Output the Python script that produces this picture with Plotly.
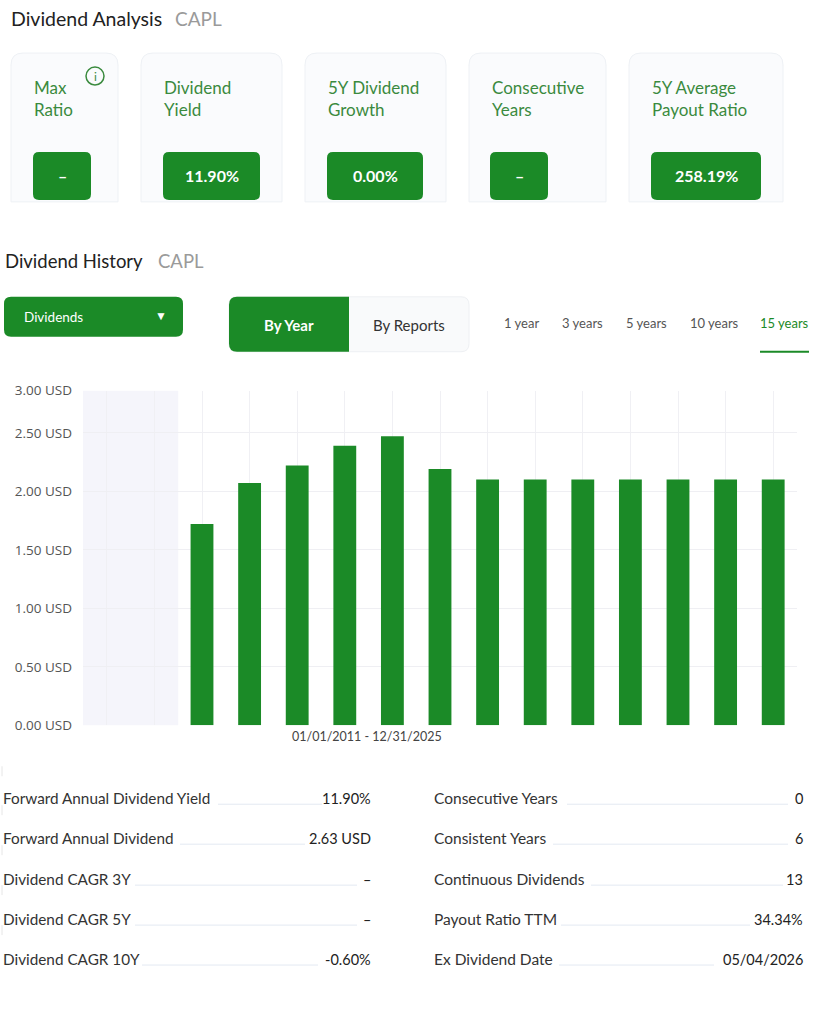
import plotly.graph_objects as go

# ---------------- data ----------------
years = [2011, 2012, 2013, 2014, 2015, 2016, 2017, 2018, 2019, 2020, 2021, 2022, 2023, 2024, 2025]
dividends = [None, None, 1.72, 2.07, 2.22, 2.39, 2.47, 2.19, 2.10, 2.10, 2.10, 2.10, 2.10, 2.10, 2.10]
no_data_years = [2011, 2012]
y_tick_vals = [0.0, 0.5, 1.0, 1.5, 2.0, 2.5, 2.86]
y_tick_text = ["0.00 USD", "0.50 USD", "1.00 USD", "1.50 USD", "2.00 USD", "2.50 USD", "3.00 USD"]
date_range_label = "01/01/2011 - 12/31/2025"

ticker = "CAPL"
card_titles = [["Max", "Ratio"], ["Dividend", "Yield"], ["5Y Dividend", "Growth"],
               ["Consecutive", "Years"], ["5Y Average", "Payout Ratio"]]
card_values = ["–", "11.90%", "0.00%", "–", "258.19%"]

period_labels = ["1 year", "3 years", "5 years", "10 years", "15 years"]
selected_period = "15 years"

left_labels = ["Forward Annual Dividend Yield", "Forward Annual Dividend", "Dividend CAGR 3Y",
               "Dividend CAGR 5Y", "Dividend CAGR 10Y"]
left_values = ["11.90%", "2.63 USD", "–", "–", "-0.60%"]
right_labels = ["Consecutive Years", "Consistent Years", "Continuous Dividends",
                "Payout Ratio TTM", "Ex Dividend Date"]
right_values = ["0", "6", "13", "34.34%", "05/04/2026"]

# ---------------- styling / layout helpers ----------------
W, H = 840, 1024
GREEN = "#1b8a27"
TITLE_GREEN = "#3a8a3e"
FONT = "Lato, 'Open Sans', sans-serif"
# vertical calibration of the page photo (measured): shown_y = Y_OFF + Y_SCALE * page_y
Y_OFF, Y_SCALE = 8.9, 0.9835


def px(x):
    return x / W


def py(y):
    return 1 - ((y - Y_OFF) / Y_SCALE) / H


def rrect_path(x0, y0, x1, y1, r, round_bottom=True, round_left=True, round_right=True):
    rtl = r if round_left else 0
    rtr = r if round_right else 0
    rbr = r if (round_right and round_bottom) else 0
    rbl = r if (round_left and round_bottom) else 0
    p = f"M {px(x0 + rtl)},{py(y0)} L {px(x1 - rtr)},{py(y0)} "
    if rtr:
        p += f"Q {px(x1)},{py(y0)} {px(x1)},{py(y0 + rtr)} "
    p += f"L {px(x1)},{py(y1 - rbr)} "
    if rbr:
        p += f"Q {px(x1)},{py(y1)} {px(x1 - rbr)},{py(y1)} "
    p += f"L {px(x0 + rbl)},{py(y1)} "
    if rbl:
        p += f"Q {px(x0)},{py(y1)} {px(x0)},{py(y1 - rbl)} "
    p += f"L {px(x0)},{py(y0 + rtl)} "
    if rtl:
        p += f"Q {px(x0)},{py(y0)} {px(x0 + rtl)},{py(y0)} "
    p += "Z"
    return p


shapes = []
annotations = []


def text(x, y, s, size=14, color="#333", xanchor="left", bold=False, family=FONT):
    annotations.append(dict(
        x=px(x), y=py(y), xref="paper", yref="paper", text=(f"<b>{s}</b>" if bold else s),
        showarrow=False, xanchor=xanchor, yanchor="middle",
        font=dict(size=size, color=color, family=family)))


def box(x0, y0, x1, y1, r, fill, line="rgba(0,0,0,0)", lw=0, **kw):
    shapes.append(dict(type="path", path=rrect_path(x0, y0, x1, y1, r, **kw),
                       xref="paper", yref="paper", fillcolor=fill,
                       line=dict(color=line, width=lw), layer="above"))


def hline(x0, x1, y, color, width=1):
    shapes.append(dict(type="line", xref="paper", yref="paper", x0=px(x0), x1=px(x1),
                       y0=py(y), y1=py(y), line=dict(color=color, width=width)))


# ---------------- header ----------------
text(9, 18, "Dividend Analysis", size=19.5, color="#222")
text(173, 18, ticker, size=19, color="#9a9a9a")

card_x = [(11, 118), (141, 282), (305, 446), (469, 606), (629, 783)]
value_box = [(33, 91), (163, 260), (327, 423), (490, 548), (651, 761)]
for (cx0, cx1), (bx0, bx1), title, val in zip(card_x, value_box, card_titles, card_values):
    box(cx0, 53, cx1, 202, 12, "#fafbfd", line="#eef1f5", lw=1, round_bottom=False)
    text(cx0 + 21, 87, title[0], size=17, color=TITLE_GREEN)
    text(cx0 + 21, 110, title[1], size=17, color=TITLE_GREEN)
    box(bx0, 152, bx1, 200, 6, GREEN)
    text((bx0 + bx1) / 2, 176, val, size=16, color="white", xanchor="center", bold=True)

# info icon on first card
shapes.append(dict(type="circle", xref="paper", yref="paper", x0=px(86), x1=px(104),
                   y0=py(85), y1=py(67), line=dict(color=TITLE_GREEN, width=1.5)))
text(95, 76, "i", size=12, color=TITLE_GREEN, xanchor="center")

# ---------------- dividend history header ----------------
text(3, 261, "Dividend History", size=18.5, color="#222")
text(156, 261, ticker, size=18.5, color="#9a9a9a")

box(4, 297, 183, 337, 7, GREEN)
text(22, 317, "Dividends", size=13.5, color="white")
text(161, 316, "▼", size=12, color="white", xanchor="center")

box(229, 297, 469, 352, 8, "#f9fafb", line="#eef0f3", lw=1)
box(229, 297, 349, 352, 8, GREEN, round_right=False)
text(289, 325, "By Year", size=15, color="white", xanchor="center", bold=True)
text(409, 325, "By Reports", size=15, color="#333", xanchor="center")

tab_x = [521, 582, 646, 714, 784]
for tx, lab in zip(tab_x, period_labels):
    text(tx, 323, lab, size=13, color=(GREEN if lab == selected_period else "#555"), xanchor="center")
hline(760, 809, 352, GREEN, 2)

# ---------------- chart ----------------
annotations.append(dict(x=px(367), y=py(737), xref="paper", yref="paper", text=date_range_label,
                        showarrow=False, xanchor="center", yanchor="middle",
                        font=dict(size=12.5, color="#444", family=FONT)))

shapes.append(dict(type="rect", xref="x", yref="y domain",
                   x0=no_data_years[0] - 0.5, x1=no_data_years[-1] + 0.5, y0=0, y1=1,
                   fillcolor="#f5f5fb", line=dict(width=0), layer="below"))

# ---------------- stats table ----------------
row_y = [799, 839, 880, 920, 960]
left_line = [(218, 322), (180, 305), (135, 357), (135, 357), (142, 318)]
right_line = [(567, 788), (553, 788), (591, 783), (561, 750), (559, 714)]
for i, yy in enumerate(row_y):
    text(1, yy, left_labels[i], size=15.3, color="#333")
    text(373, yy, left_values[i], size=14.5, color="#222", xanchor="right")
    hline(left_line[i][0], left_line[i][1], yy + 6, "#e3e9f2", 1)
    text(432, yy, right_labels[i], size=15.5, color="#333")
    text(805, yy, right_values[i], size=14.5, color="#222", xanchor="right")
    hline(right_line[i][0], right_line[i][1], yy + 6, "#e3e9f2", 1)
for yy in [772, 811, 851, 891, 931]:
    shapes.append(dict(type="line", xref="paper", yref="paper", x0=px(2), x1=px(2),
                       y0=py(yy - 5), y1=py(yy + 5), line=dict(color="#e6e6e6", width=1)))

fig = go.Figure()
fig.add_trace(go.Bar(x=years, y=dividends, width=0.48, marker=dict(color=GREEN, line=dict(width=0)),
                     hoverinfo="skip"))

fig.update_layout(
    width=W, height=H, margin=dict(l=0, r=0, t=0, b=0),
    paper_bgcolor="white", plot_bgcolor="white", showlegend=False,
    font=dict(family=FONT),
    xaxis=dict(domain=[px(83), px(797)], range=[2010.5, 2025.5], tickvals=years,
               showticklabels=False, showgrid=True, gridcolor="#f0f0f4", gridwidth=1,
               zeroline=False, showline=False, ticks="", fixedrange=True),
    yaxis=dict(domain=[py(726), py(391)], range=[0, 2.86], tickvals=y_tick_vals, ticktext=y_tick_text,
               showgrid=True, gridcolor="#efeff3", gridwidth=1, zeroline=False, showline=False,
               tickfont=dict(size=13.5, color="#555", family="'Open Sans', Lato, sans-serif"),
               ticks="", ticklabelstandoff=10, fixedrange=True),
    shapes=shapes, annotations=annotations, bargap=0.5,
)

css_fix = ("var s=document.createElement('style');"
           "s.innerHTML='html,body{margin:0!important;padding:0!important;overflow:hidden!important;}';"
           "document.head.appendChild(s);")
fig.write_html("out.html", config={"displayModeBar": False}, post_script=css_fix)
